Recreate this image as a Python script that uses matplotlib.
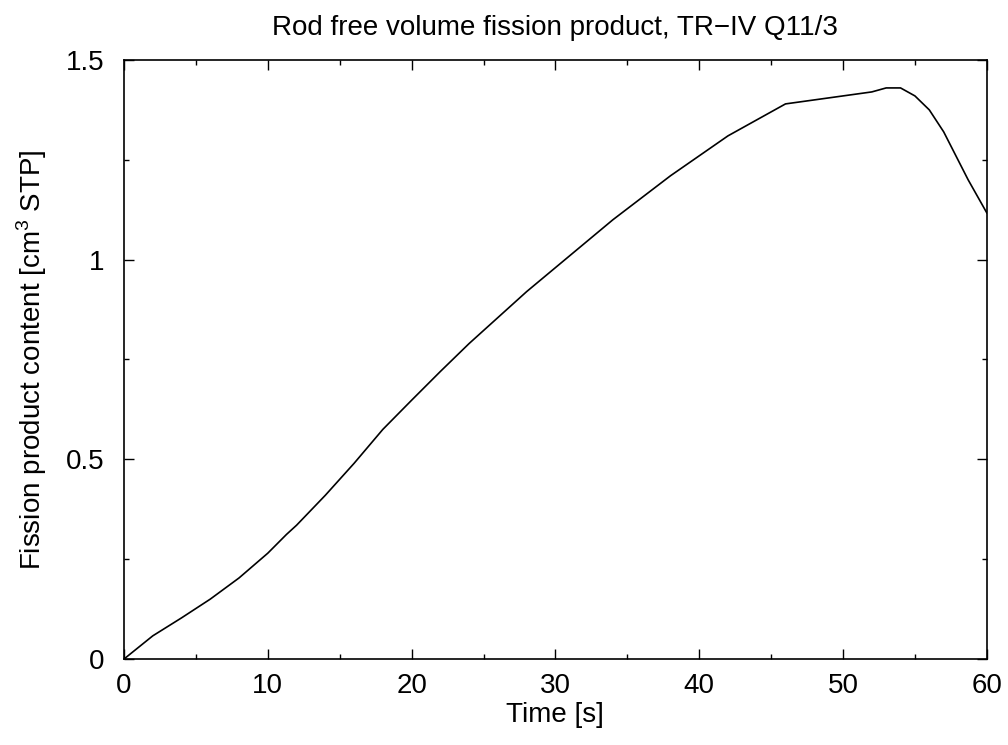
import matplotlib
matplotlib.use("Agg")
import matplotlib.pyplot as plt
from matplotlib.ticker import MultipleLocator

plt.rcParams['font.family'] = ['Liberation Sans', 'DejaVu Sans']
plt.rcParams['mathtext.fontset'] = 'custom'
plt.rcParams['mathtext.rm'] = 'Liberation Sans'

# Zeit [s] und Spaltproduktinhalt [cm3 STP]
tiempo = [0, 2, 4, 6, 8, 10, 11.3, 12, 14, 16, 18, 20, 22, 24, 26, 28, 30,
          32, 34, 36, 38, 40, 42, 44, 46, 52, 53, 54, 55, 56, 57, 58.7, 60]
contenido = [0, 0.058, 0.103, 0.150, 0.203, 0.265, 0.312, 0.335, 0.41, 0.49,
             0.575, 0.648, 0.72, 0.79, 0.855, 0.92, 0.98, 1.04, 1.10, 1.155,
             1.21, 1.26, 1.31, 1.35, 1.39, 1.42, 1.43, 1.43, 1.41, 1.375,
             1.32, 1.20, 1.117]

fig = plt.figure(figsize=(10.08, 7.45), dpi=100)
ax = fig.add_axes([0.123, 0.1154, 0.856, 0.8041])

ax.plot(tiempo, contenido, color='black', linewidth=1.2)

ax.set_xlim(0, 60)
ax.set_ylim(0, 1.5)
ax.xaxis.set_major_locator(MultipleLocator(10))
ax.xaxis.set_minor_locator(MultipleLocator(5))
ax.yaxis.set_minor_locator(MultipleLocator(0.25))
ax.set_yticks([0, 0.5, 1, 1.5])
ax.set_yticklabels(['0', '0.5', '1', '1.5'])

ax.tick_params(which='both', direction='in', top=True, right=True,
               labelsize=20, width=1)
ax.tick_params(which='major', length=7)
ax.tick_params(axis='y', which='major', pad=14)
ax.tick_params(axis='x', which='major', pad=10)
ax.tick_params(which='minor', length=3.5)
for s in ax.spines.values():
    s.set_linewidth(1.2)

ax.set_title('Rod free volume fission product, TR\u2212IV Q11/3', fontsize=20, pad=18)
ax.set_xlabel('Time [s]', fontsize=20, labelpad=2)
ax.set_ylabel('Fission product content [cm$^\\mathregular{3}$ STP]', fontsize=20, labelpad=12)

fig.savefig('out.png', dpi=100)
